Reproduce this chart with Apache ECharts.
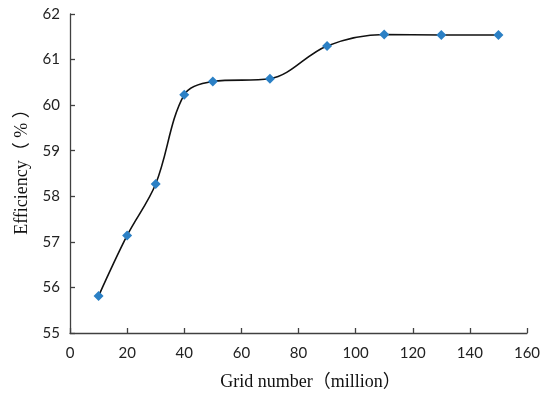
<!DOCTYPE html>
<html>
<head>
<meta charset="utf-8">
<script src="https://cdn.jsdelivr.net/npm/echarts@6/dist/echarts.min.js"></script>
<style>html,body{margin:0;padding:0;background:#fff}#c{width:550px;height:399px}</style>
</head>
<body>
<div id="c"></div>
<script>
const gridNumbers = [10, 20, 30, 40, 50, 70, 90, 110, 130, 150];
const efficiency = [55.81, 57.14, 58.27, 60.23, 60.52, 60.58, 61.30, 61.55, 61.54, 61.54];
const xTitle = 'Grid number（million）';
const yTitle = 'Efficiency（ % ）';

const chart = echarts.init(document.getElementById('c'), null, {renderer: 'canvas'});
const axisLine = {lineStyle: {color: '#404040', width: 1.3}};
const tickFont = {fontFamily: 'Lato, "Open Sans", sans-serif', fontSize: 15, color: '#222'};
const nameFont = {fontFamily: '"Liberation Serif", "Noto Sans CJK SC", serif', fontSize: 18, color: '#111'};
chart.setOption({
  animation: false,
  backgroundColor: '#fff',
  grid: {left: 70, right: 23, top: 14, bottom: 66, containLabel: false, outerBoundsMode: 'none'},
  xAxis: {
    type: 'value', min: 0, max: 160, interval: 20,
    name: xTitle, nameLocation: 'middle', nameGap: 40,
    nameTextStyle: Object.assign({padding: [0, 0, 0, 24]}, nameFont),
    axisLine: axisLine,
    axisTick: {show: true, inside: true, length: 5, lineStyle: {color: '#404040', width: 1.3}},
    axisLabel: Object.assign({margin: 13}, tickFont),
    splitLine: {show: false}
  },
  yAxis: {
    type: 'value', min: 55, max: 62, interval: 1,
    name: yTitle, nameLocation: 'middle', nameGap: 38, nameRotate: 90,
    nameTextStyle: Object.assign({padding: [0, 0, 0, 12]}, nameFont),
    axisLine: Object.assign({show: true}, axisLine),
    axisTick: {show: true, inside: true, length: 5, lineStyle: {color: '#404040', width: 1.3}},
    axisLabel: Object.assign({margin: 10}, tickFont),
    splitLine: {show: false}
  },
  series: [{
    type: 'line',
    data: gridNumbers.map((x, i) => [x, efficiency[i]]),
    smooth: 0.35,
    symbol: 'diamond',
    symbolSize: 10,
    itemStyle: {color: '#2b80c5'},
    lineStyle: {color: '#111', width: 1.6}
  }]
});
</script>
</body>
</html>
